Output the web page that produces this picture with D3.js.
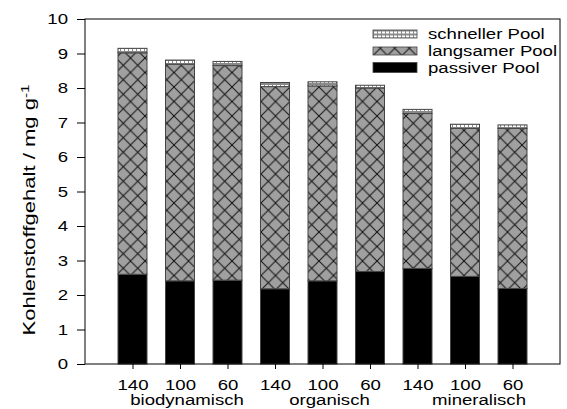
<!DOCTYPE html>
<html>
<head>
<meta charset="utf-8">
<script src="https://cdn.jsdelivr.net/npm/d3@7"></script>
<style>
  body { margin: 0; background: #fff; }
  text { font-family: "Liberation Sans", Arial, sans-serif; fill: #000; }
</style>
</head>
<body>
<div id="chart"></div>
<script>
// values (mg C per g)
var categories = ["140", "100", "60", "140", "100", "60", "140", "100", "60"];
var groups = ["biodynamisch", "organisch", "mineralisch"];
var passiv  = [2.60, 2.41, 2.43, 2.18, 2.41, 2.68, 2.77, 2.54, 2.19];
var langsam = [6.42, 6.28, 6.22, 5.86, 5.65, 5.32, 4.49, 4.29, 4.64];
var schnell = [0.13, 0.12, 0.12, 0.12, 0.12, 0.08, 0.12, 0.12, 0.10];
var yTicks = [0, 1, 2, 3, 4, 5, 6, 7, 8, 9, 10];
var seriesNames = ["passiver Pool", "langsamer Pool", "schneller Pool"];

var width = 567, height = 409;
var mLeft = 85, mRight = 560, mTop = 19, mBottom = 364;
var stretch = 1.24; // text in the original is a bit wider than normal

var svg = d3.select('#chart').append('svg')
    .attr('width', width)
    .attr('height', height);

// patterns
var defs = svg.append('defs');
var hatch = defs.append('pattern')
    .attr('id', 'hatch')
    .attr('patternUnits', 'userSpaceOnUse')
    .attr('width', 14.5).attr('height', 14.5);
hatch.append('rect').attr('width', 14.5).attr('height', 14.5).attr('fill', '#a0a0a0');
hatch.append('path')
    .attr('d', 'M0,0L14.5,14.5M14.5,0L0,14.5M-1,13.5L1,15.5M13.5,-1L15.5,1')
    .attr('stroke', '#111').attr('stroke-width', 1);

var dots = defs.append('pattern')
    .attr('id', 'dots')
    .attr('patternUnits', 'userSpaceOnUse')
    .attr('width', 4).attr('height', 4);
dots.append('rect').attr('width', 4).attr('height', 4).attr('fill', '#8a8a8a');
dots.append('rect').attr('x', 1).attr('y', 1).attr('width', 3).attr('height', 2).attr('fill', '#fff');

var fills = ['#000', 'url(#hatch)', 'url(#dots)'];

var x = d3.scaleLinear().domain([0, categories.length + 1]).range([mLeft, mRight]);
var y = d3.scaleLinear().domain([0, 10]).range([mBottom, mTop]);
var barW = 29;

var rows = categories.map(function(c, i) {
  return {i: i, passiv: passiv[i], langsam: langsam[i], schnell: schnell[i]};
});
var stack = d3.stack().keys(['passiv', 'langsam', 'schnell']);
var layers = stack(rows);

svg.selectAll('.layer')
  .data(layers)
  .enter().append('g')
    .attr('class', 'layer')
    .attr('fill', function(d, k) { return fills[k]; })
  .selectAll('rect')
  .data(function(d) { return d; })
  .enter().append('rect')
    .attr('x', function(d) { return x(d.data.i + 1) - barW / 2; })
    .attr('y', function(d) { return y(d[1]); })
    .attr('width', barW)
    .attr('height', function(d) { return y(d[0]) - y(d[1]); })
    .attr('stroke', '#444')
    .attr('stroke-width', 1);

// frame
svg.append('rect')
    .attr('x', mLeft).attr('y', mTop)
    .attr('width', mRight - mLeft).attr('height', mBottom - mTop)
    .attr('fill', 'none').attr('stroke', '#000').attr('stroke-width', 1);

// y axis
var yAxis = svg.append('g')
    .attr('transform', 'translate(' + mLeft + ',0)')
    .call(d3.axisLeft(y).tickValues(yTicks).tickSize(8).tickPadding(9));
yAxis.select('.domain').remove();
yAxis.selectAll('text')
    .attr('font-size', '15px')
    .attr('font-family', '"Liberation Sans", Arial, sans-serif')
    .attr('x', -17 / stretch)
    .attr('transform', 'scale(' + stretch + ',1)');

// x axis
var xAxis = svg.append('g')
    .attr('transform', 'translate(0,' + mBottom + ')')
    .call(d3.axisBottom(x)
      .tickValues(categories.map(function(c, i) { return i + 1; }))
      .tickFormat(function(d) { return categories[d - 1]; })
      .tickSize(5).tickPadding(10));
xAxis.select('.domain').remove();
xAxis.selectAll('text')
    .attr('font-size', '15px')
    .attr('font-family', '"Liberation Sans", Arial, sans-serif')
    .attr('transform', 'scale(' + stretch + ',1)');

// group labels under the ticks
var groupShift = [7, 7, 14];
svg.selectAll('.grp')
  .data(groups)
  .enter().append('text')
    .attr('class', 'grp')
    .attr('font-size', '15px')
    .attr('text-anchor', 'middle')
    .attr('transform', function(d, k) {
      return 'translate(' + (x(k * 3 + 2) + groupShift[k]) + ',405) scale(' + stretch + ',1)';
    })
    .text(function(d) { return d; });

// y title
var title = svg.append('text')
    .attr('font-size', '16px')
    .attr('text-anchor', 'middle')
    .attr('transform', 'translate(35,210) rotate(-90) scale(1.38,1)');
title.append('tspan').text('Kohlenstoffgehalt / mg g');
title.append('tspan').attr('dy', -6).attr('font-size', '11px').text('-1');

// legend, top entry is the top of the stack
var legend = svg.selectAll('.leg')
  .data([2, 1, 0])
  .enter().append('g')
    .attr('class', 'leg')
    .attr('transform', function(d, r) { return 'translate(373,' + (38.5 + r * 17) + ')'; });
legend.append('rect')
    .attr('x', 0).attr('y', function(d) { return d === 0 ? -10 : -8.5; })
    .attr('width', 44).attr('height', function(d) { return d === 0 ? 10 : 8; })
    .attr('fill', function(d) { return fills[d]; })
    .attr('stroke', '#444').attr('stroke-width', 0.8);
legend.append('text')
    .attr('font-size', '15px')
    .attr('transform', 'translate(55,0) scale(' + stretch + ',1)')
    .text(function(d) { return seriesNames[d]; });
</script>
</body>
</html>
